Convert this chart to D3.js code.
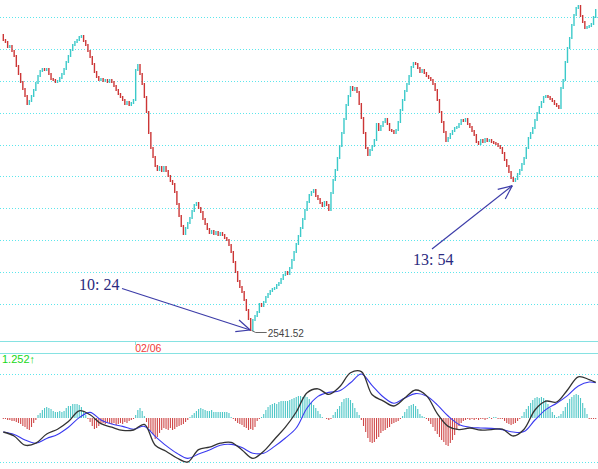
<!DOCTYPE html>
<html><head><meta charset="utf-8">
<script src="https://cdn.jsdelivr.net/npm/d3@7"></script>
<style>html,body{margin:0;padding:0;background:#fff;overflow:hidden}</style>
</head><body><svg id="c" width="598" height="469" xmlns="http://www.w3.org/2000/svg"></svg>
<script>
// ---------- data ----------
const firstOpen = 2659.52;
const closes = [
2657.52,2656.72,2654.72,2655.12,2653.12,2651.12,2647.12,2643.92,2640.72,2637.92,
2635.12,2631.92,2633.12,2635.12,2637.52,2640.32,2643.12,2645.12,2645.92,2645.52,
2645.92,2643.92,2641.92,2641.52,2640.72,2641.12,2642.32,2643.92,2645.92,2648.72,
2651.12,2653.52,2655.52,2656.72,2657.52,2658.72,2659.12,2657.12,2655.52,2653.12,
2650.72,2647.92,2644.72,2642.72,2641.52,2641.92,2641.12,2641.52,2640.72,2641.52,
2640.72,2639.12,2637.52,2635.92,2634.72,2633.52,2631.92,2632.72,2631.52,2632.32,
2633.52,2645.52,2647.52,2643.92,2639.92,2634.72,2628.72,2620.32,2614.32,2610.72,
2607.12,2605.52,2606.72,2605.12,2606.72,2605.12,2603.12,2601.12,2599.92,2596.72,
2591.92,2587.12,2583.12,2579.92,2582.32,2584.32,2586.32,2589.12,2591.52,2592.32,
2590.32,2588.72,2585.92,2583.92,2581.92,2580.32,2581.12,2579.92,2580.72,2579.52,
2580.32,2579.52,2578.32,2577.52,2575.52,2572.72,2568.72,2564.72,2561.12,2558.72,
2556.72,2553.52,2549.52,2545.92,2541.52,2545.52,2547.12,2548.72,2551.92,2551.12,
2552.72,2554.72,2555.92,2557.12,2557.92,2558.32,2559.52,2560.32,2561.92,2563.52,
2564.72,2563.92,2566.32,2569.52,2572.72,2575.92,2579.12,2582.32,2585.92,2589.52,
2592.72,2595.52,2596.72,2597.52,2595.12,2593.92,2592.32,2591.12,2592.72,2591.52,
2589.52,2596.32,2601.52,2605.52,2610.32,2615.12,2620.32,2625.92,2631.52,2635.12,
2638.72,2637.52,2638.32,2636.72,2631.92,2626.32,2620.32,2614.32,2611.52,2613.52,
2615.12,2617.52,2623.92,2621.52,2623.12,2624.72,2625.92,2623.92,2621.52,2621.12,
2620.32,2621.52,2624.72,2629.52,2633.52,2637.12,2639.92,2643.12,2646.72,2648.32,
2647.92,2646.32,2644.72,2645.52,2644.32,2643.12,2642.32,2641.52,2639.92,2637.52,
2633.52,2628.72,2624.72,2620.72,2617.12,2618.32,2619.92,2621.12,2622.32,2622.72,
2623.92,2625.52,2625.12,2625.92,2623.92,2622.72,2621.12,2619.52,2616.72,2615.92,
2617.52,2616.72,2617.92,2617.12,2617.52,2616.72,2616.32,2615.92,2615.12,2614.32,
2612.32,2609.52,2607.12,2604.72,2602.32,2601.12,2601.92,2603.92,2605.52,2607.92,
2610.32,2614.32,2618.32,2620.32,2622.32,2625.52,2628.32,2630.72,2632.72,2634.72,
2635.12,2634.72,2633.92,2633.12,2631.92,2631.12,2630.32,2638.32,2641.52,2648.72,
2654.32,2658.32,2663.52,2667.52,2670.32,2671.12,2667.12,2664.72,2662.32,2662.72,
2663.12,2663.92,2666.72,2669.52
];
const priceGrid = [2666.72,2653.96,2641.20,2628.44,2615.68,2602.92,2590.16,2577.40,2564.64,2551.88];
const dayStartBar = 61;
const dayLabel = "02/06";
const lowBar = 114, lowPrice = 2541.52, lowLabel = "2541.52";
const noteTexts = ["10: 24", "13: 54"];
const noteBars = [114, 234];
const notePrices = [2541.52, 2601.12];

const macdHist = [
-0.05,-0.05,-0.1,-0.1,-0.15,-0.15,
-0.2,-0.25,-0.3,-0.4,-0.45, -0.55,-0.6,-0.45,-0.25,-0.1,
0.15,0.25,0.4,0.5,0.55, 0.5,0.45,0.35,0.3,0.3,
0.35,0.3,0.35,0.5,0.6, 0.6,0.7,0.7,0.7,0.65,
0.55,0.35,0.15,-0.05,-0.2, -0.4,-0.55,-0.5,-0.4,-0.3,
-0.25,-0.3,-0.2,-0.25,-0.3, -0.25,-0.35,-0.3,-0.25,-0.3,
-0.2,-0.25,-0.15,-0.1,-0.05, 0.15,0.4,0.5,0.35,0.1,
-0.2,-0.5,-0.65,-0.8,-1.05, -0.95,-0.75,-0.6,-0.5,-0.55,
-0.6,-0.5,-0.6,-0.55,-0.45, -0.4,-0.35,-0.3,-0.2,-0.1,
0.05,0.15,0.25,0.35,0.45, 0.5,0.45,0.4,0.35,0.35,
0.4,0.3,0.3,0.3,0.3, 0.3,0.3,0.3,0.25,0.05,
-0.05,-0.15,-0.25,-0.3,-0.35, -0.45,-0.5,-0.6,-0.55,-0.6,
-0.45,-0.15,-0.05,0.05,0.2, 0.4,0.55,0.65,0.7,0.75,
0.7,0.8,0.85,0.85,0.85, 0.85,0.9,0.95,1.0,1.05,
1.1,1.1,1.05,1.15,1.05, 0.95,0.75,0.65,0.5,0.35,
0.2,0.05,0,-0.05,-0.1, -0.05,0.15,0.3,0.45,0.6,
0.8,0.95,1.0,1.0,0.9, 0.75,0.5,0.3,0.15,-0.1,
-0.4,-0.7,-1.0,-1.2,-1.25, -1.2,-1.05,-0.95,-0.75,-0.65,
-0.6,-0.5,-0.45,-0.3,-0.25, -0.2,-0.15,-0.05,0.1,0.3,
0.45,0.6,0.65,0.7,0.6, 0.45,0.2,0.1,0.05,-0.05,
-0.15,-0.3,-0.45,-0.65,-0.8, -0.95,-1.1,-1.2,-1.35,-1.4,
-1.25,-1.1,-0.85,-0.6,-0.4, -0.25,-0.15,-0.1,-0.05,-0.1,
-0.05,-0.1,-0.05,-0.1,-0.05, -0.05,-0.1,-0.05,0.05,-0.05,
0.05,0.05,-0.05,-0.05,-0.05, -0.15,-0.25,-0.3,-0.35,-0.3,
-0.25,-0.15,-0.05,0.1,0.3, 0.45,0.6,0.75,0.9,1.0,
1.05,1.0,1.05,1.0,0.9, 0.7,0.5,0.3,0.15,0.05,
0.1,0.2,0.35,0.55,0.75, 0.95,1.05,1.15,1.2,1.15,
1.0,0.75,0.5,0.2,-0.05, -0.05,-0.05,-0.05
];
const lineBars = [0,5,10,15,20,25,30,35,40,45,50,55,60,65,70,75,80,85,90,95,100,105,110,115,120,125,130,135,140,145,150,155,160,165,170,175,180,185,190,195,200,205,210,215,220,225,230,235,240,245,250,255,260,265,270,273];
const diffLine = [-0.70,-0.90,-1.36,-1.26,-0.80,-0.56,-0.18,0.36,0.16,-0.28,-0.46,-0.62,-0.60,-0.32,-1.36,-1.66,-2.00,-2.20,-1.58,-1.46,-1.26,-1.22,-1.60,-2.02,-1.66,-1.06,-0.46,0.30,1.26,1.46,1.18,1.56,2.26,2.32,1.16,0.86,0.60,1.00,1.40,1.12,0.22,-0.42,-0.58,-0.50,-0.60,-0.58,-0.56,-0.90,-0.56,0.40,0.84,0.80,1.40,2.06,1.92,1.78];
const deaLine = [-0.70,-0.82,-1.10,-1.26,-1.02,-0.82,-0.46,0.02,0.28,-0.10,-0.30,-0.42,-0.56,-0.42,-0.92,-1.38,-1.76,-2.02,-1.80,-1.60,-1.36,-1.32,-1.48,-1.76,-1.76,-1.42,-1.00,-0.50,0.50,1.08,1.28,1.36,1.76,2.20,1.62,1.06,0.74,1.00,1.22,1.10,0.66,0.10,-0.32,-0.46,-0.50,-0.52,-0.58,-0.70,-0.68,-0.10,0.42,0.74,1.12,1.60,1.80,1.76];
const macdGrid = [2.2, -2.2];
const macdLabel = "1.252\u2191";

// ---------- drawing ----------
const svg = d3.select("#c");
const UP = "#3ccaca", DOWN = "#cc3636", GRID = "#5ce6ec";
const x = d3.scaleLinear().domain([0, closes.length - 1]).range([3.3, 595.7]);
const yP = d3.scaleLinear().domain([2539.12, 2673.52]).range([336, 0]);
const yM = d3.scaleLinear().domain([-2.5, 2.5]).range([468, 368]);

// price grid
svg.append("g").attr("shape-rendering", "crispEdges").selectAll("line").data(priceGrid).join("line")
  .attr("x1", 0).attr("x2", 598)
  .attr("y1", d => Math.round(yP(d)) + 0.5).attr("y2", d => Math.round(yP(d)) + 0.5)
  .attr("stroke", GRID).attr("stroke-dasharray", "1,2").attr("stroke-width", 1);

// candles
const bars = closes.map((c, i) => ({i, o: i === 0 ? firstOpen : closes[i - 1], c}));
svg.append("g").selectAll("rect").data(bars).join("rect")
  .attr("x", d => x(d.i) - 0.7).attr("width", 1.4)
  .attr("y", d => yP(Math.max(d.o, d.c)) - 1)
  .attr("height", d => Math.abs(yP(d.o) - yP(d.c)) + 2)
  .attr("fill", d => d.c >= d.o ? UP : DOWN);

// panel separators
[341.5, 353.5].forEach(yy => svg.append("line").attr("x1", 0).attr("x2", 598)
  .attr("y1", yy).attr("y2", yy).attr("stroke", "#86e2e2").attr("stroke-width", 1));
svg.append("line").attr("x1", Math.round(x(dayStartBar)) - 0.5).attr("x2", Math.round(x(dayStartBar)) - 0.5)
  .attr("y1", 341).attr("y2", 345).attr("stroke", "#86e2e2");
svg.append("text").attr("x", x(dayStartBar) - 0.5).attr("y", 351.5)
  .attr("font-family", "Liberation Sans, Arial, sans-serif").attr("font-size", 10.5)
  .attr("fill", "#f03a3a").text(dayLabel);

// low label
const lx = x(lowBar), ly = yP(lowPrice);
svg.append("path").attr("d", `M${lx + 1},${ly + 0.5}L${lx + 5},${ly + 2.5}L${lx + 16},${ly + 2.5}`)
  .attr("fill", "none").attr("stroke", "#666").attr("stroke-width", 1);
svg.append("text").attr("x", lx + 17).attr("y", ly + 6.5)
  .attr("font-family", "Liberation Sans, Arial, sans-serif").attr("font-size", 10)
  .attr("fill", "#444").text(lowLabel);

// annotations
const noteLayout = [
  {tdx: -0.5, tdy: 0, tx: 79, ty: 290, sx: 122, sy: 288.5},
  {tdx: 1.2, tdy: 4.7, tx: 413, ty: 265, sx: 432, sy: 249}
];
noteTexts.forEach((t, k) => {
  const L = noteLayout[k];
  const tipX = x(noteBars[k]) + L.tdx;
  const tipY = yP(notePrices[k]) + L.tdy;
  const col = "#3c3ca8";
  svg.append("line").attr("x1", L.sx).attr("y1", L.sy).attr("x2", tipX).attr("y2", tipY)
    .attr("stroke", col).attr("stroke-width", 1.2);
  const back = Math.atan2(L.sy - tipY, L.sx - tipX);
  [-1, 1].forEach(s => {
    const a = back + s * 24 * Math.PI / 180;
    svg.append("line").attr("x1", tipX).attr("y1", tipY)
      .attr("x2", tipX + 15 * Math.cos(a)).attr("y2", tipY + 15 * Math.sin(a))
      .attr("stroke", col).attr("stroke-width", 1.2);
  });
  svg.append("text").attr("x", L.tx).attr("y", L.ty)
    .attr("font-family", "Liberation Serif, Times New Roman, serif").attr("font-size", 16)
    .attr("fill", "#2a2a80").text(t);
});

// MACD panel
svg.append("text").attr("x", 2).attr("y", 363)
  .attr("font-family", "Liberation Sans, Arial, sans-serif").attr("font-size", 11)
  .attr("fill", "#18d818").text(macdLabel);
svg.append("g").attr("shape-rendering", "crispEdges").selectAll("line").data(macdGrid).join("line")
  .attr("x1", 0).attr("x2", 598)
  .attr("y1", d => Math.round(yM(d)) + 0.5).attr("y2", d => Math.round(yM(d)) + 0.5)
  .attr("stroke", GRID).attr("stroke-dasharray", "1,2");
svg.append("g").selectAll("line").data(macdHist.map((v, i) => ({v, i})).filter(d => d.v !== 0)).join("line")
  .attr("x1", d => x(d.i)).attr("x2", d => x(d.i))
  .attr("y1", yM(0)).attr("y2", d => yM(d.v))
  .attr("stroke", d => d.v > 0 ? "#4cc6c6" : "#cf4848").attr("stroke-width", 1.1);
const line = d3.line().x(d => x(d[0])).y(d => yM(d[1])).curve(d3.curveCatmullRom);
svg.append("path").attr("d", line(lineBars.map((b, k) => [b, deaLine[k]])))
  .attr("fill", "none").attr("stroke", "#3a3af0").attr("stroke-width", 1.1);
svg.append("path").attr("d", line(lineBars.map((b, k) => [b, diffLine[k]])))
  .attr("fill", "none").attr("stroke", "#333").attr("stroke-width", 1.3);
</script>
</body></html>
